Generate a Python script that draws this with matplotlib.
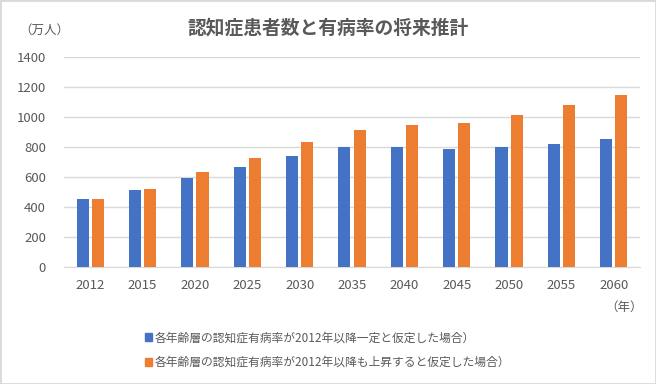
import numpy as np
import matplotlib.pyplot as plt
from matplotlib.patches import Patch

plt.rcParams['font.family'] = ['Noto Sans CJK JP', 'DejaVu Sans']

years = ['2012', '2015', '2020', '2025', '2030', '2035', '2040', '2045', '2050', '2055', '2060']
constant = [455, 515, 595, 669, 742, 799, 799, 785, 799, 823, 850]
rising = [455, 522, 633, 729, 830, 915, 949, 962, 1015, 1082, 1149]
labels = ['各年齢層の認知症有病率が2012年以降一定と仮定した場合）',
          '各年齢層の認知症有病率が2012年以降も上昇すると仮定した場合）']
colors = ['#4472C4', '#ED7D31']
grey = '#595959'

fig = plt.figure(figsize=(6.56, 3.84), dpi=100)
ax = fig.add_axes([0.0976, 0.3047, 0.878, 0.5469])

x = np.arange(len(years))
w = 0.23
ax.bar(x - 0.145, constant, w, color=colors[0], zorder=3)
ax.bar(x + 0.145, rising, w, color=colors[1], zorder=3)

ax.set_xlim(-0.5, len(years) - 0.5)
ax.set_ylim(0, 1400)
ax.set_yticks(range(0, 1401, 200))
ax.set_xticks(x)
ax.set_xticklabels(years)
ax.grid(axis='y', color='#D9D9D9', linewidth=1, zorder=0)
for s in ['top', 'right', 'left']:
    ax.spines[s].set_visible(False)
ax.spines['bottom'].set_color('#D9D9D9')
ax.tick_params(length=0, colors=grey, labelsize=9.5)
ax.tick_params(axis='y', pad=13)
ax.tick_params(axis='x', pad=9)

fig.text(0.5, 0.927, '認知症患者数と有病率の将来推計', ha='center', va='center',
         fontsize=13.5, fontweight='bold', color=grey)
fig.text(0.03, 0.92, '（万人）', ha='left', va='center', fontsize=9, color=grey)
fig.text(0.922, 0.2, '（年）', ha='left', va='center', fontsize=9, color=grey)

handles = [Patch(color=c) for c in colors]
fig.legend(handles, labels, loc='upper left', bbox_to_anchor=(0.205, 0.165), frameon=False,
           fontsize=8.5, labelcolor=grey, handlelength=0.6, handleheight=0.6,
           handletextpad=0.25, labelspacing=1.0)

fig.patches.append(plt.Rectangle((0, 0), 1, 1, transform=fig.transFigure, fill=False,
                                 edgecolor='#D9D9D9', linewidth=2))

fig.savefig('out.png', dpi=100)
